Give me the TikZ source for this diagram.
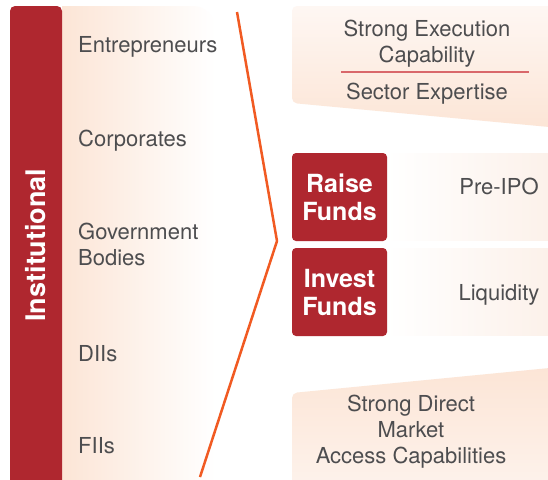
\documentclass[tikz,border=0pt]{standalone}
\usepackage{fontspec}
\setmainfont{TeX Gyre Heros}
\definecolor{brandred}{HTML}{AF272F}
\definecolor{peach}{HTML}{FCE5D6}
\definecolor{peachlight}{HTML}{FEF7F3}
\definecolor{bandpeach}{HTML}{FCF1EA}
\definecolor{txtgrey}{HTML}{4D4D4F}
\definecolor{lineorange}{HTML}{F15A22}
\definecolor{seprule}{HTML}{D9686B}
\begin{document}
\begin{tikzpicture}[x=1pt,y=-1pt,
  lbl/.style={text=txtgrey,font=\fontsize{22}{26}\selectfont,inner sep=0pt,align=center},
  llbl/.style={lbl,anchor=west,align=left},
  redbox/.style={fill=brandred,rounded corners=4pt,minimum width=95pt,minimum height=88pt,
    text=white,font=\bfseries\fontsize{25}{28}\selectfont,align=center,inner sep=0pt}]
\useasboundingbox (0,0) rectangle (548,479);
\fill[white] (0,0) rectangle (548,479);
% left peach panel
\shade[left color=peach,right color=white,rounded corners=22pt] (62,6) -- (215,6) -- (215,530) -- (62,530);
% red bar
\fill[brandred,rounded corners=5pt] (10,530) -- (10,6) -- (62,6) -- (62,530);
\node[rotate=90,text=white,font=\bfseries\fontsize{27}{30}\selectfont,inner sep=0pt] (inst) at (36,245) {Institutional};
% left labels
\node[llbl] (ent) at (78,47) {Entrepreneurs};
\node[llbl] (corp) at (78,141) {Corporates};
\node[llbl] (gov) at (78,244) {Government\\Bodies};
\node[llbl] (dii) at (78,354) {DIIs};
\node[llbl] (fii) at (78,446) {FIIs};
% orange connector
\coordinate (ot) at (237,12);
\coordinate (oa) at (277,241);
\coordinate (ob) at (200,477);
\draw[lineorange,line width=2.5pt,line join=round] (ot) -- (oa) -- (ob);
% top right panel
\shade[top color=peachlight,bottom color=peach,rounded corners=5pt] (560,128) -- (292,103) -- (292,6) -- (560,6);
\node[lbl] (sec) at (427,44) {Strong Execution\\Capability};
\coordinate (sl) at (341,72);
\coordinate (sr) at (529,72);
\draw[seprule,line width=1.2pt] (sl) -- (sr);
\node[lbl] (sexp) at (427,94) {Sector Expertise};
% bands
\shade[left color=white,right color=bandpeach] (387,153) rectangle (548,240);
\shade[left color=white,right color=bandpeach] (387,248) rectangle (548,335);
\node[redbox] (raise) at (339.5,197) {Raise\\Funds};
\node[redbox] (invest) at (339.5,292) {Invest\\Funds};
\node[lbl] (pre) at (499,186) {Pre-IPO};
\node[lbl] (liq) at (499,295) {Liquidity};
% bottom panel
\shade[top color=peach,bottom color=peachlight,rounded corners=5pt] (560,367) -- (292,393) -- (292,530) -- (560,530);
\node[lbl] (sdm) at (411,432) {Strong Direct\\Market\\Access Capabilities};
\end{tikzpicture}
\end{document}
